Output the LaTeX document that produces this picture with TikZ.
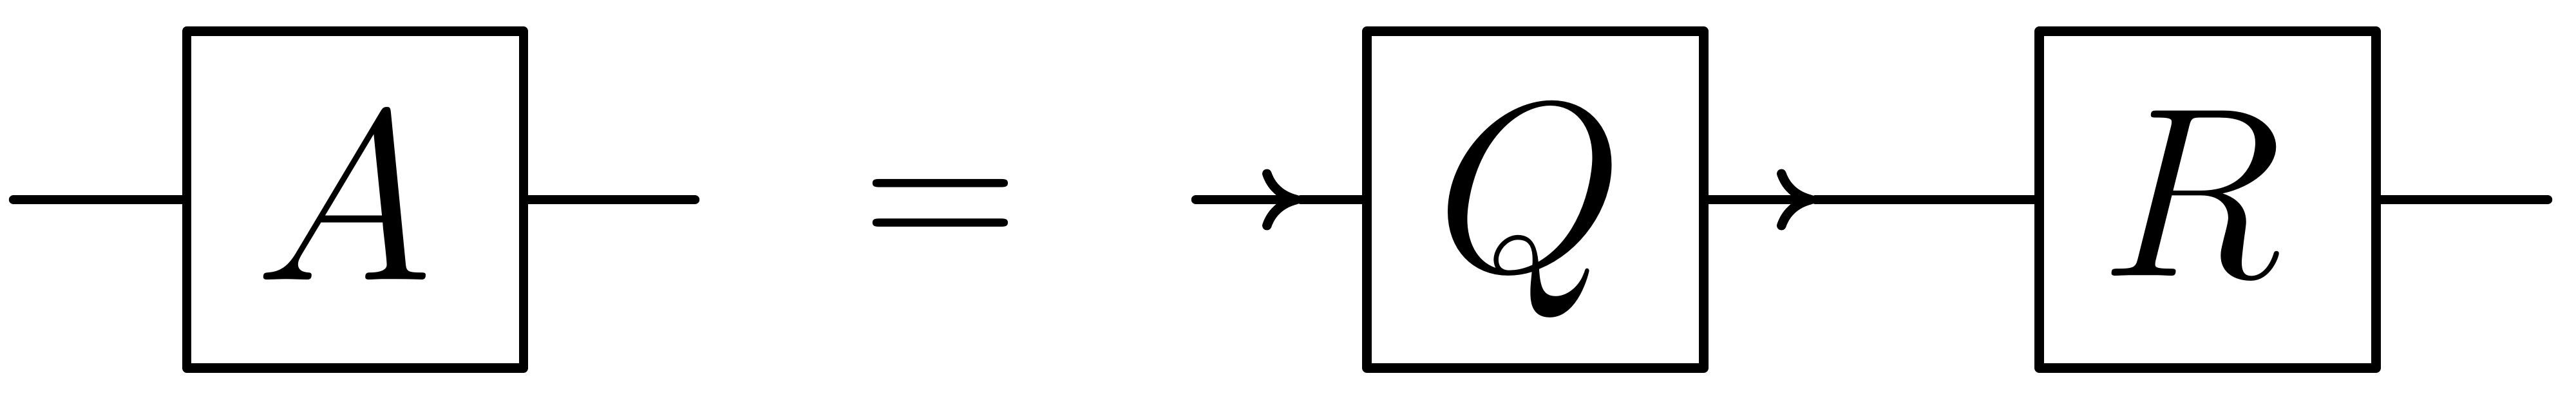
\documentclass[tikz,border=0pt]{standalone}
\usepackage{graphicx}
\usetikzlibrary{arrows.meta}

\newcommand{\bigsym}[2]{\scalebox{#1}{\fontsize{12}{14}\selectfont$#2$}}

\begin{document}
\begin{tikzpicture}[
        wire/.style={line width=0.145cm, line cap=round, line join=round},
        flow/.style={wire, -{Computer Modern Rightarrow[length=0.6cm, width=0.95cm]}},
        box/.style={rectangle, draw, line width=0.145cm, line join=round,
            minimum width=5.23cm, minimum height=5.23cm, inner sep=0pt},
        sym/.style={inner sep=0pt},
      ]
      \useasboundingbox (0,0) rectangle (40,6.17);

      \node[box] (A) at (5.515,3.07) {};
      \node[sym] (a) at ([shift={(-0.17,0.04)}]A.center) {\bigsym{8.9}{A}};
      \coordinate (ain) at (0.21,3.07);
      \coordinate (aout) at (10.79,3.07);
      \draw[wire] (ain) -- (A);
      \draw[wire] (A) -- (aout);

      \node (eq) at (14.60,2.81) {\scalebox{9}{$=$}};

      \node[box] (Q) at (23.84,3.07) {};
      \node[sym] (q) at ([shift={(-0.08,-0.19)}]Q.center) {\bigsym{8.9}{Q}};
      \node[box] (R) at (34.28,3.07) {};
      \node[sym] (r) at ([shift={(-0.25,0.10)}]R.center) {\bigsym{8.9}{R}};
      \coordinate (qin) at (18.57,3.07);
      \coordinate (tipin) at (20.20,3.07);
      \coordinate (tipmid) at (28.19,3.07);
      \coordinate (rout) at (39.56,3.07);
      \draw[flow] (qin) -- (tipin);
      \draw[wire] (tipin) -- (Q);
      \draw[flow] (Q) -- (tipmid);
      \draw[wire] (tipmid) -- (R);
      \draw[wire] (R) -- (rout);

    \end{tikzpicture}
\end{document}
